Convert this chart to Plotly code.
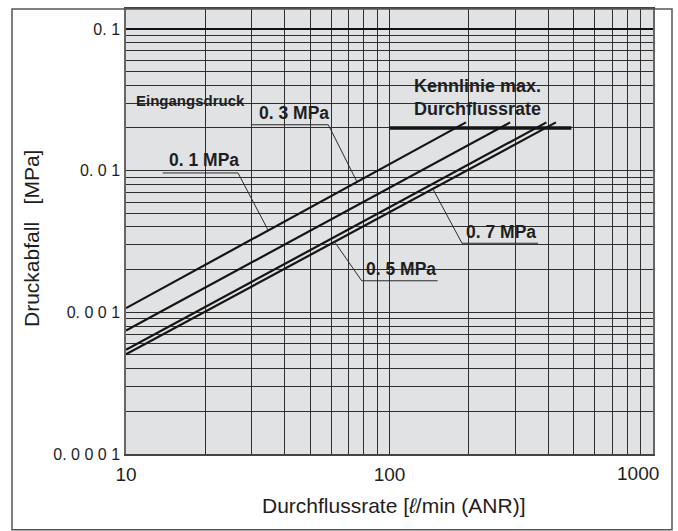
import plotly.graph_objects as go

# ---------------- data ----------------
pressure_labels = ["0. 1 MPa", "0. 3 MPa", "0. 5 MPa", "0. 7 MPa"]
flow_01 = [10, 195]
drop_01 = [0.00107, 0.0219]
flow_03 = [10, 287]
drop_03 = [0.000744, 0.0219]
flow_05 = [10, 394]
drop_05 = [0.000544, 0.0219]
flow_07 = [10, 428]
drop_07 = [0.000505, 0.0219]

max_flow_x = [100, 490]
max_flow_y = [0.02, 0.02]

x_tick_values = [10, 100, 1000]
x_tick_labels = ["10", "100", "1000"]
y_tick_values = [0.0001, 0.001, 0.01, 0.1]
y_tick_labels = ["0. 0 0 0 1", "0. 0 0 1", "0. 0 1", "0. 1"]

# ---------------- layout geometry (pixels) ----------------
W, H = 678, 531
L, R, T, B = 126, 653, 7, 454
X_RANGE = [1, 3]
Y_RANGE = [-4, -0.8595]


def px(x):
    return (x - L) / (R - L)


def py(y):
    return (B - y) / (B - T)


INK = "#1e1e1e"
BG = "#e1e2e4"
GRID = "#2e2e2e"
FONT = "Liberation Sans, Arial, Helvetica, sans-serif"

fig = go.Figure()

series = [(flow_01, drop_01), (flow_03, drop_03), (flow_05, drop_05), (flow_07, drop_07)]
for (fx, fy), name in zip(series, pressure_labels):
    fig.add_trace(go.Scatter(x=fx, y=fy, mode="lines", name=name,
                             line=dict(color="#151515", width=2.2), hoverinfo="skip",
                             showlegend=False))

fig.add_trace(go.Scatter(x=max_flow_x, y=max_flow_y, mode="lines",
                         line=dict(color="#151515", width=3.5), hoverinfo="skip",
                         showlegend=False))

# emphasised 0.1 gridline
fig.add_trace(go.Scatter(x=[10, 1000], y=[0.1, 0.1], mode="lines",
                         line=dict(color="#111111", width=2), hoverinfo="skip",
                         showlegend=False))

# grid positions (1..9 per decade)
x_grid = [m * 10 ** e for e in (1, 2) for m in range(1, 10)] + [1000]
y_grid = [m * 10.0 ** e for e in (-4, -3, -2) for m in range(1, 10)] + [0.1]


def labels_for(grid, vals, texts, skip=()):
    out = []
    for g in grid:
        t = ""
        for v, s in zip(vals, texts):
            if abs(g - v) / v < 1e-9 and s not in skip:
                t = s
        out.append(t)
    return out


fig.update_xaxes(type="log", range=X_RANGE, tickmode="array", tickvals=x_grid,
                 ticktext=labels_for(x_grid, x_tick_values, x_tick_labels, skip=("1000",)),
                 showgrid=True, gridcolor=GRID, gridwidth=1, ticks="",
                 tickfont=dict(family=FONT, size=19, color=INK), ticklabelstandoff=2,
                 showline=True, linecolor="#444444", linewidth=1.5, mirror=True,
                 zeroline=False)
fig.update_yaxes(type="log", range=Y_RANGE, tickmode="array", tickvals=y_grid,
                 ticktext=labels_for(y_grid, y_tick_values, y_tick_labels),
                 showgrid=True, gridcolor=GRID, gridwidth=1, ticks="",
                 tickfont=dict(family=FONT, size=16, color=INK), ticklabelstandoff=1,
                 showline=True, linecolor="#666666", linewidth=1.5, mirror=True,
                 zeroline=False)

shapes = []
# label background boxes (between gridlines and traces)
boxes = [(134, 85, 246, 110), (252, 97, 329, 122), (163, 148, 238, 170.5),
         (411, 65, 548, 115), (462, 217, 538, 241.5), (362, 255, 438, 279)]
for x0, y0, x1, y1 in boxes:
    shapes.append(dict(type="rect", xref="paper", yref="paper", layer="between",
                       x0=px(x0), x1=px(x1), y0=py(y1), y1=py(y0),
                       fillcolor=BG, line=dict(width=0)))

# underline + leader lines
leaders = [
    [(162.7, 171.7), (238, 171.7), (268, 229)],
    [(251.7, 123.3), (328.3, 123.3), (356.7, 180)],
    [(538, 242.3), (462, 242.3), (433, 188)],
    [(437.7, 280), (361.7, 280), (335, 241.5)],
]
for pts in leaders:
    for (a, b), (c, d) in zip(pts[:-1], pts[1:]):
        shapes.append(dict(type="line", xref="paper", yref="paper", layer="above",
                           x0=px(a), y0=py(b), x1=px(c), y1=py(d),
                           line=dict(color="#2a2a2a", width=1)))

# outer frame
shapes.append(dict(type="rect", xref="paper", yref="paper", layer="above",
                   x0=px(12), x1=px(672), y0=py(530), y1=py(7),
                   line=dict(color="#555555", width=1.5), fillcolor="rgba(0,0,0,0)"))

annotations = []


def ann(text, x, y, size, bold=True, xanchor="center", yanchor="middle", **kw):
    d = dict(text=f"<b>{text}</b>" if bold else text, xref="paper", yref="paper",
             x=px(x), y=py(y), showarrow=False, xanchor=xanchor, yanchor=yanchor,
             font=dict(family=FONT, size=size, color=INK), **kw)
    annotations.append(d)


ann("Eingangsdruck", 190.5, 98.5, 15)
ann(pressure_labels[1], 293.5, 111, 17.5)
ann(pressure_labels[0], 203.5, 159, 17.5)
ann(pressure_labels[3], 501, 230.5, 17.5)
ann(pressure_labels[2], 400.5, 268, 17.5)
ann("Kennlinie max.<br>Durchflussrate", 412, 96, 18, align="left", xanchor="left")

# x tick label 1000 kept inside the frame
ann(x_tick_labels[2], 661, 474, 19, bold=False, xanchor="right")

# axis titles
ann("Durchflussrate [<i>ℓ</i>/min (ANR)]", 394, 506, 21, bold=False)
ann("Druckabfall\u00a0\u00a0\u00a0[MPa]", 32, 238, 21, bold=False, textangle=-90)

fig.update_layout(width=W, height=H, margin=dict(l=L, r=W - R, t=T, b=H - B, pad=0),
                  paper_bgcolor="white", plot_bgcolor=BG,
                  shapes=shapes, annotations=annotations, showlegend=False)

fig.write_html("out.html")
